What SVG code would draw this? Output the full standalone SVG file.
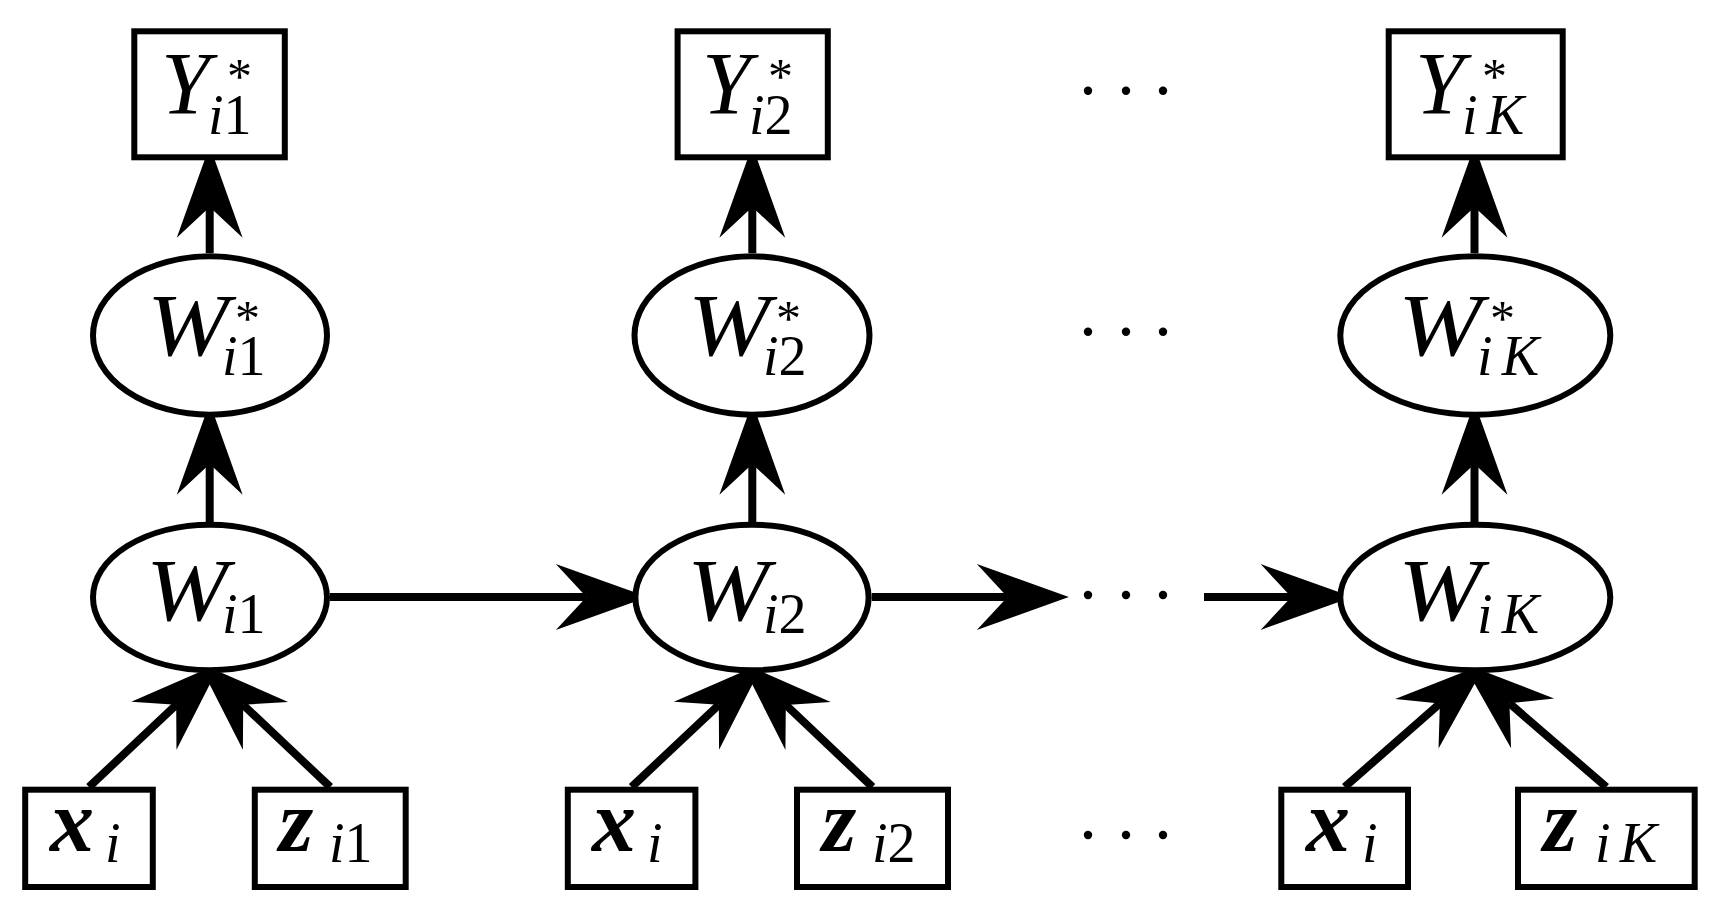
<svg xmlns="http://www.w3.org/2000/svg" width="1718" height="912" viewBox="0 0 1718 912">
<style>
.node{fill:#fff;stroke:#000;stroke-width:6}
.edge{fill:none;stroke:#000;stroke-width:8}
.m{font-family:"Liberation Serif","DejaVu Serif",serif;font-style:italic;fill:#000}
.big{font-size:88px}
.sub{font-size:56px}
.up{font-style:normal}
.st{font-size:50px;font-style:normal}
.bold{font-weight:bold}
</style>
<defs>
<marker id="ah" markerUnits="userSpaceOnUse" markerWidth="120" markerHeight="80" refX="0" refY="0" viewBox="-30 -30 90 60" orient="auto" overflow="visible">
<path d="M46,0 L-23,-24.7 L0,0 L-23,24.7 Z" fill="#000"/>
</marker>
</defs>
<rect width="1718" height="912" fill="#fff"/>
<g id="connectors">
<line class="edge" x1="209.7" y1="253" x2="209.7" y2="207" marker-end="url(#ah)"/>
<line class="edge" x1="752.3" y1="253" x2="752.3" y2="207" marker-end="url(#ah)"/>
<line class="edge" x1="1474.5" y1="253" x2="1474.5" y2="207" marker-end="url(#ah)"/>
<line class="edge" x1="209.7" y1="522" x2="209.7" y2="464" marker-end="url(#ah)"/>
<line class="edge" x1="752.3" y1="522" x2="752.3" y2="464" marker-end="url(#ah)"/>
<line class="edge" x1="1474.5" y1="522" x2="1474.5" y2="464" marker-end="url(#ah)"/>
<line class="edge" x1="330" y1="597" x2="586.5" y2="597" marker-end="url(#ah)"/>
<line class="edge" x1="871.7" y1="597" x2="1007.5" y2="597" marker-end="url(#ah)"/>
<line class="edge" x1="1204" y1="597" x2="1291.3" y2="597" marker-end="url(#ah)"/>
<line class="edge" x1="89" y1="787" x2="176.2" y2="704.8" marker-end="url(#ah)"/>
<line class="edge" x1="330.2" y1="787" x2="243.2" y2="704.8" marker-end="url(#ah)"/>
<line class="edge" x1="631.6" y1="787" x2="718.8" y2="704.8" marker-end="url(#ah)"/>
<line class="edge" x1="872.5" y1="787" x2="785.8" y2="704.9" marker-end="url(#ah)"/>
<line class="edge" x1="1344.7" y1="787" x2="1439.9" y2="703.6" marker-end="url(#ah)"/>
<line class="edge" x1="1606.3" y1="787" x2="1509.4" y2="703.3" marker-end="url(#ah)"/>
</g>
<g id="Ystar1"><rect class="node" x="134.3" y="31.3" width="150.5" height="126"/>
<text class="m"><tspan class="big" x="161" y="113">Y</tspan><tspan class="st" x="227" y="93">*</tspan><tspan class="sub" x="208" y="134">i<tspan class="up">1</tspan></tspan></text></g>
<g id="Ystar2"><rect class="node" x="677.6" y="31.3" width="150.2" height="126"/>
<text class="m"><tspan class="big" x="702" y="113">Y</tspan><tspan class="st" x="768" y="93">*</tspan><tspan class="sub" x="749" y="134">i<tspan class="up">2</tspan></tspan></text></g>
<g id="YstarK"><rect class="node" x="1388.7" y="31.3" width="174" height="126"/>
<text class="m"><tspan class="big" x="1415" y="113">Y</tspan><tspan class="st" x="1482" y="93">*</tspan><tspan class="sub" x="1462" y="134" textLength="62" lengthAdjust="spacing">iK</tspan></text></g>
<g id="Wstar1"><ellipse class="node" cx="210" cy="335.5" rx="117" ry="79.2"/>
<text class="m"><tspan class="big" x="147" y="355" textLength="82" lengthAdjust="spacingAndGlyphs">W</tspan><tspan class="st" x="235" y="335">*</tspan><tspan class="sub" x="222" y="375">i<tspan class="up">1</tspan></tspan></text></g>
<g id="Wstar2"><ellipse class="node" cx="752" cy="335.5" rx="117.5" ry="79.2"/>
<text class="m"><tspan class="big" x="688" y="355" textLength="82" lengthAdjust="spacingAndGlyphs">W</tspan><tspan class="st" x="776" y="335">*</tspan><tspan class="sub" x="763" y="375">i<tspan class="up">2</tspan></tspan></text></g>
<g id="WstarK"><ellipse class="node" cx="1475.3" cy="335.5" rx="135" ry="79.2"/>
<text class="m"><tspan class="big" x="1398" y="355" textLength="84" lengthAdjust="spacingAndGlyphs">W</tspan><tspan class="st" x="1490" y="335">*</tspan><tspan class="sub" x="1477" y="375" textLength="62" lengthAdjust="spacing">iK</tspan></text></g>
<g id="W1"><ellipse class="node" cx="210" cy="597.5" rx="117" ry="72.8"/>
<text class="m"><tspan class="big" x="146" y="620" textLength="82" lengthAdjust="spacingAndGlyphs">W</tspan><tspan class="sub" x="222" y="633">i<tspan class="up">1</tspan></tspan></text></g>
<g id="W2"><ellipse class="node" cx="752" cy="597.5" rx="116.6" ry="72.8"/>
<text class="m"><tspan class="big" x="687" y="620" textLength="82" lengthAdjust="spacingAndGlyphs">W</tspan><tspan class="sub" x="763" y="633">i<tspan class="up">2</tspan></tspan></text></g>
<g id="WK"><ellipse class="node" cx="1475.3" cy="597.5" rx="135" ry="72.8"/>
<text class="m"><tspan class="big" x="1398" y="620" textLength="84" lengthAdjust="spacingAndGlyphs">W</tspan><tspan class="sub" x="1477" y="633" textLength="62" lengthAdjust="spacing">iK</tspan></text></g>
<g id="x1"><rect class="node" x="25.2" y="789.7" width="127.6" height="97.3"/>
<text class="m"><tspan class="big bold" x="50" y="851">x</tspan><tspan class="sub" x="105" y="862">i</tspan></text></g>
<g id="z1"><rect class="node" x="254.8" y="789.7" width="150.9" height="97.3"/>
<text class="m"><tspan class="big bold" x="279" y="851">z</tspan><tspan class="sub" x="329" y="862">i<tspan class="up">1</tspan></tspan></text></g>
<g id="x2"><rect class="node" x="567.8" y="789.7" width="127.6" height="97.3"/>
<text class="m"><tspan class="big bold" x="592" y="851">x</tspan><tspan class="sub" x="647" y="862">i</tspan></text></g>
<g id="z2"><rect class="node" x="797" y="789.7" width="151" height="97.3"/>
<text class="m"><tspan class="big bold" x="822" y="851">z</tspan><tspan class="sub" x="872" y="862">i<tspan class="up">2</tspan></tspan></text></g>
<g id="xK"><rect class="node" x="1281.3" y="789.7" width="126.7" height="97.3"/>
<text class="m"><tspan class="big bold" x="1306" y="851">x</tspan><tspan class="sub" x="1362" y="862">i</tspan></text></g>
<g id="zK"><rect class="node" x="1518" y="789.7" width="176.7" height="97.3"/>
<text class="m"><tspan class="big bold" x="1543" y="851">z</tspan><tspan class="sub" x="1595" y="862" textLength="62" lengthAdjust="spacing">iK</tspan></text></g>
<g id="dots" fill="#000">
<circle cx="1088" cy="90.7" r="4.2"/><circle cx="1126" cy="90.7" r="4.2"/><circle cx="1163" cy="90.7" r="4.2"/>
<circle cx="1088" cy="331.7" r="4.2"/><circle cx="1126" cy="331.7" r="4.2"/><circle cx="1163" cy="331.7" r="4.2"/>
<circle cx="1088" cy="595" r="4.2"/><circle cx="1126" cy="595" r="4.2"/><circle cx="1163" cy="595" r="4.2"/>
<circle cx="1088" cy="835" r="4.2"/><circle cx="1126" cy="835" r="4.2"/><circle cx="1163" cy="835" r="4.2"/>
</g>
</svg>
